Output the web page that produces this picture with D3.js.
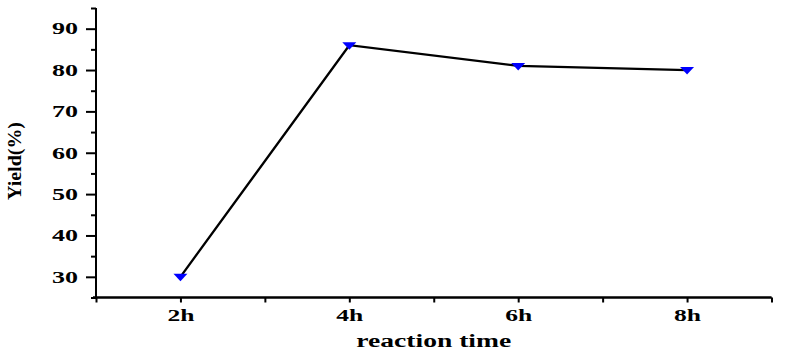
<!DOCTYPE html>
<html><head><meta charset="utf-8">
<script src="https://cdn.jsdelivr.net/npm/d3@7"></script>
<style>body{margin:0;background:#fff;} svg{display:block;}</style>
</head><body>
<script>
const categories = ["2h","4h","6h","8h"];
const hours = [2,4,6,8];
const yieldValues = [30,86,81,80];
const yTickValues = [30,40,50,60,70,80,90];
const yMinorTicks = [25,35,45,55,65,75,85,95];
const xMinorTicks = [1,3,5,7,9];

(function(){
const W=806,H=353;
const svg=d3.select("body").append("svg").attr("width",W).attr("height",H);
const mL=96,mR=771.5,mT=8,mB=297.5;
const x=d3.scaleLinear().domain([1,9]).range([mL,mR]);
const y=d3.scaleLinear().domain([25,95]).range([mB,mT]);
const font="'Liberation Serif','Times New Roman',serif";

// y axis
const gy=svg.append("g").attr("transform",`translate(${mL},0)`)
  .call(d3.axisLeft(y).tickValues(yMinorTicks).tickSize(5).tickFormat(""));
const gy2=svg.append("g").attr("transform",`translate(${mL},0)`)
  .call(d3.axisLeft(y).tickValues(yTickValues).tickSize(10).tickFormat(d3.format("d")).tickPadding(0));
[gy,gy2].forEach(g=>{
  g.select(".domain").attr("stroke","#000").attr("stroke-width",2).attr("d",`M0,${mT}V${mB}`);
  g.selectAll(".tick line").attr("stroke","#000").attr("stroke-width",2);
});
gy2.selectAll(".tick text").attr("font-family",font).attr("font-weight","bold").attr("font-size",16)
  .attr("fill","#000").attr("x",-18).attr("dy","0.33em")
  .attr("textLength",26).attr("lengthAdjust","spacingAndGlyphs");

// x axis
const gx=svg.append("g").attr("transform",`translate(0,${mB})`)
  .call(d3.axisBottom(x).tickValues(xMinorTicks).tickSize(5).tickFormat(""));
const gx2=svg.append("g").attr("transform",`translate(0,${mB})`)
  .call(d3.axisBottom(x).tickValues(hours).tickSize(5).tickFormat((d,i)=>categories[i]));
[gx,gx2].forEach(g=>{
  g.select(".domain").attr("stroke","#000").attr("stroke-width",2).attr("d",`M${mL-3},0H${mR}`);
  g.selectAll(".tick line").attr("stroke","#000").attr("stroke-width",2);
});
gx2.selectAll(".tick text").attr("font-family",font).attr("font-weight","bold").attr("font-size",16)
  .attr("fill","#000").attr("y",23).attr("dy","0")
  .attr("textLength",27).attr("lengthAdjust","spacingAndGlyphs");

// line
const pts=hours.map((h,i)=>[x(h),y(yieldValues[i])]);
svg.append("path").datum(pts).attr("fill","none").attr("stroke","#000").attr("stroke-width",2.3)
  .attr("d",d3.line());

// markers
svg.selectAll(".m").data(pts).join("path").attr("class","m")
  .attr("transform",d=>`translate(${d[0]},${d[1]})`)
  .attr("d","M-7,-3L7,-3L0,4.5Z").attr("fill","#0000ff");

// labels
svg.append("text").attr("x",(mL+mR)/2).attr("y",347).attr("text-anchor","middle")
  .attr("font-family",font).attr("font-weight","bold").attr("font-size",18)
  .attr("textLength",155).attr("lengthAdjust","spacingAndGlyphs").text("reaction time");
svg.append("text").attr("transform","translate(21,161) rotate(-90)").attr("text-anchor","middle")
  .attr("font-family",font).attr("font-weight","bold").attr("font-size",18)
  .attr("textLength",78).attr("lengthAdjust","spacingAndGlyphs").text("Yield(%)");
})();
</script>
</body></html>
